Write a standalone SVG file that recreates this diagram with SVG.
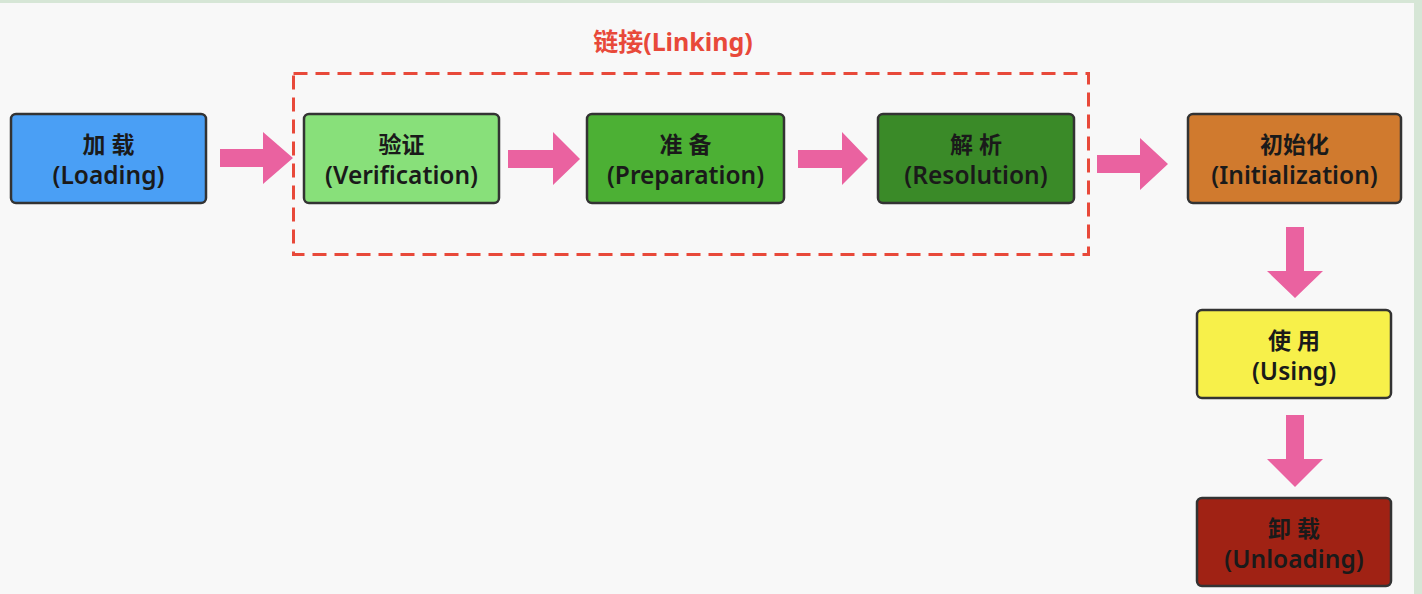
<svg xmlns="http://www.w3.org/2000/svg" width="1422" height="594" viewBox="0 0 1422 594">
<style>
.node rect{stroke:#333;stroke-width:2.5}
.t{font-family:"Noto Sans","Noto Sans CJK SC",sans-serif;font-size:24.5px;font-weight:600;fill:#1a1a1a;text-anchor:middle}
.cn{font-weight:bold;font-size:23px}
.arr{fill:#ea62a0}
</style>
<rect width="1422" height="594" fill="#f8f8f8"/>
<rect x="0" y="0" width="1422" height="3" fill="#d6e6d6"/>
<rect x="1414" y="0" width="8" height="594" fill="#d6e6d6"/>
<g id="linking">
<rect x="293.5" y="73.5" width="795" height="181" fill="none" stroke="#e8493a" stroke-width="3" stroke-dasharray="14,8"/>
<text x="673" y="51" style="font-family:'Noto Sans','Noto Sans CJK SC',sans-serif;font-size:25px;font-weight:bold;fill:#e8493a" text-anchor="middle">链接(Linking)</text>
</g>
<g id="loading" class="node"><rect x="11" y="114" width="195" height="89" rx="5" fill="#4a9ff5"/><text class="t cn" x="108.5" y="153">加 载</text><text class="t" x="108.5" y="184">(Loading)</text></g>
<g id="verification" class="node"><rect x="304" y="114" width="195" height="89" rx="5" fill="#88e07a"/><text class="t cn" x="401.5" y="153">验证</text><text class="t" x="401.5" y="184">(Verification)</text></g>
<g id="preparation" class="node"><rect x="587" y="114" width="197" height="89" rx="5" fill="#4cb034"/><text class="t cn" x="685.5" y="153">准 备</text><text class="t" x="685.5" y="184">(Preparation)</text></g>
<g id="resolution" class="node"><rect x="878" y="114" width="196" height="89" rx="5" fill="#3a8a28"/><text class="t cn" x="976" y="153">解 析</text><text class="t" x="976" y="184">(Resolution)</text></g>
<g id="initialization" class="node"><rect x="1188" y="114" width="213" height="89" rx="5" fill="#d07a2e"/><text class="t cn" x="1294.5" y="153">初始化</text><text class="t" x="1294.5" y="184">(Initialization)</text></g>
<g id="using" class="node"><rect x="1197" y="310" width="194" height="88" rx="5" fill="#f7f04a"/><text class="t cn" x="1294" y="349">使 用</text><text class="t" x="1294" y="380">(Using)</text></g>
<g id="unloading" class="node"><rect x="1197" y="498" width="194" height="88" rx="5" fill="#a02214"/><text class="t cn" x="1294" y="537">卸 载</text><text class="t" x="1294" y="568">(Unloading)</text></g>
<g id="connectors">
<polygon class="arr" points="220,149 263,149 263,132 293,158 263,184 263,167 220,167"/>
<polygon class="arr" points="508,150 553,150 553,132 580,159 553,185 553,168 508,168"/>
<polygon class="arr" points="798,150 842,150 842,132 868,159 842,185 842,168 798,168"/>
<polygon class="arr" points="1097,155 1140,155 1140,138 1168,164 1140,190 1140,173 1097,173"/>
<polygon class="arr" points="1286,227 1304,227 1304,271 1323,271 1295,298 1267,271 1286,271"/>
<polygon class="arr" points="1286,415 1304,415 1304,459 1323,459 1295,487 1267,459 1286,459"/>
</g>
</svg>
